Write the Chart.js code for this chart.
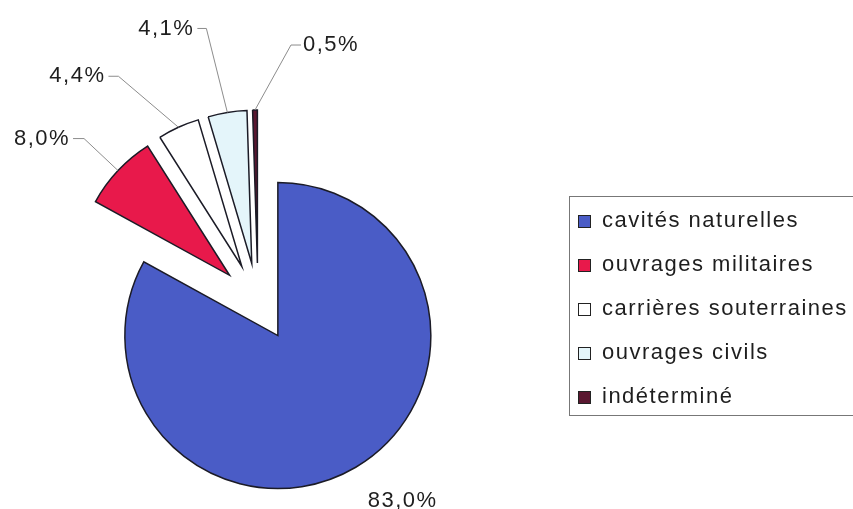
<!DOCTYPE html>
<html lang="fr">
<head>
  <meta charset="UTF-8">
  <title>Répartition des sites</title>
  <script src="https://cdn.jsdelivr.net/npm/chart.js"></script>
  <style>
    body { margin: 0; background: #fff; font-family: "Liberation Sans", Arial, sans-serif; }
    #wrap { position: relative; width: 853px; height: 509px; overflow: hidden; }
    #legend {
      position: absolute; left: 569px; top: 196px; width: 300px; height: 220px;
      border: 1px solid #777; box-sizing: border-box;
    }
    .row { position: relative; height: 44px; }
    .row span.box {
      position: absolute; left: 8px; top: 18px; width: 11px; height: 11px;
      border: 1.5px solid #222;
    }
    .row span.txt {
      position: absolute; left: 32px; top: 1px; line-height: 44px;
      font-size: 22px; letter-spacing: 1.5px; color: #1e1e1e; white-space: nowrap;
    }
  </style>
</head>
<body>
  <div id="wrap">
    <canvas id="pieChart" width="853" height="509"></canvas>
    <div id="legend"></div>
  </div>

  <script>
    const categories = ['cavités naturelles', 'ouvrages militaires', 'carrières souterraines', 'ouvrages civils', 'indéterminé'];
    const shares = [83.0, 8.0, 4.4, 4.1, 0.5];
    const sliceColors = ['#4a5cc6', '#e8194b', '#ffffff', '#e4f5fa', '#5a1730'];

    // where each percentage label sits, relative to the middle of its slice's outer edge
    const labelSpots = [
      { dx: 12, dy: 34, leader: false, align: 'left' },
      { dx: -34, dy: -32, leg: -11, align: 'right' },
      { dx: -60, dy: -51, leg: -10, align: 'right' },
      { dx: -21, dy: -84, leg: -9, align: 'right' },
      { dx: 36, dy: -65, leg: 10, align: 'left' }
    ];

    const fmt = v => v.toFixed(1).replace('.', ',') + '%';

    // push every slice out from the centre along its middle angle
    const explode = {
      id: 'explode',
      afterDatasetsUpdate(chart, args, opts) {
        chart.getDatasetMeta(0).data.forEach(arc => {
          const mid = (arc.startAngle + arc.endAngle) / 2;
          arc.x += Math.cos(mid) * opts.distance;
          arc.y += Math.sin(mid) * opts.distance;
        });
      }
    };

    const pctLabels = {
      id: 'pctLabels',
      afterDatasetsDraw(chart) {
        const ctx = chart.ctx;
        ctx.save();
        ctx.font = '22px "Liberation Sans", Arial, sans-serif';
        if ('letterSpacing' in ctx) ctx.letterSpacing = '1.5px';
        ctx.textBaseline = 'middle';
        ctx.fillStyle = '#1e1e1e';
        ctx.strokeStyle = '#8c8c8c';
        ctx.lineWidth = 1;
        chart.getDatasetMeta(0).data.forEach((arc, i) => {
          const spot = labelSpots[i];
          const mid = (arc.startAngle + arc.endAngle) / 2;
          const px = arc.x + Math.cos(mid) * arc.outerRadius;
          const py = arc.y + Math.sin(mid) * arc.outerRadius;
          const ex = px + spot.dx;
          const ey = py + spot.dy;
          let tx = ex;
          if (spot.leader !== false) {
            ctx.beginPath();
            ctx.moveTo(px, py);
            ctx.lineTo(ex, ey);
            ctx.lineTo(ex + spot.leg, ey);
            ctx.stroke();
            tx = ex + spot.leg + (spot.leg < 0 ? -3 : 2);
          }
          ctx.textAlign = spot.align;
          ctx.fillText(fmt(shares[i]), tx, ey);
        });
        ctx.restore();
      }
    };

    new Chart(document.getElementById('pieChart'), {
      type: 'pie',
      data: {
        labels: categories,
        datasets: [{
          data: shares,
          backgroundColor: sliceColors,
          borderColor: '#1b1b26',
          borderWidth: 1.5,
          borderJoinStyle: 'miter',
          radius: 153
        }]
      },
      options: {
        responsive: false,
        animation: false,
        events: [],
        layout: { padding: { left: 0, right: 337, top: 100, bottom: 5 } },
        plugins: {
          legend: { display: false },
          tooltip: { enabled: false },
          explode: { distance: 39 }
        }
      },
      plugins: [explode, pctLabels]
    });

    const legend = document.getElementById('legend');
    categories.forEach((name, i) => {
      const row = document.createElement('div');
      row.className = 'row';
      row.innerHTML = '<span class="box" style="background:' + sliceColors[i] + '"></span><span class="txt"></span>';
      row.querySelector('.txt').textContent = name;
      legend.appendChild(row);
    });
  </script>
</body>
</html>
